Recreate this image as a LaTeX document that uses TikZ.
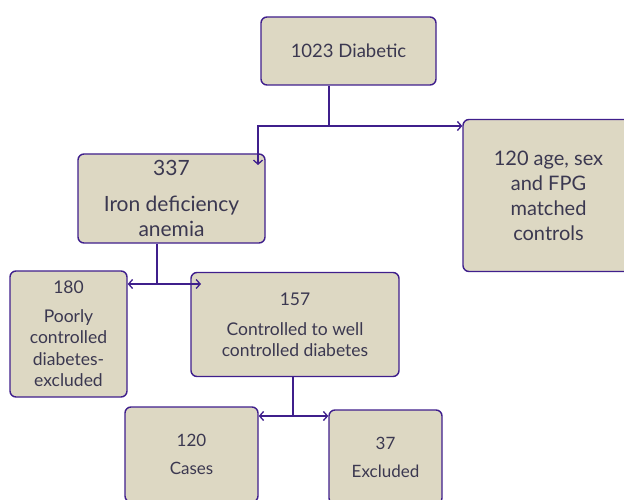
\documentclass[tikz,border=0pt]{standalone}
\usepackage{fontspec}
\setmainfont{Lato}
\usetikzlibrary{arrows.meta}
\definecolor{boxfill}{HTML}{DDD8C3}
\definecolor{boxline}{HTML}{3F1F8C}
\definecolor{txt}{HTML}{3B3850}
\tikzset{
  flowbox/.style={draw=boxline, fill=boxfill, line width=1.4pt, rounded corners=6pt,
    inner sep=0pt, align=center, text=txt},
  conn/.style={draw=boxline, line width=1.3pt},
  arr/.style={conn, -{Straight Barb[length=4pt,width=9pt]}}
}
\begin{document}
\begin{tikzpicture}[x=1pt,y=-1pt]
\useasboundingbox (0,0) rectangle (624,500);
\clip (0,0) rectangle (624,500);

\node[flowbox, minimum width=175pt, minimum height=68pt, font=\fontsize{18.5}{22}\selectfont]
  (dia) at (348.5,51) {1023 Diabetic};
\node[flowbox, minimum width=171pt, minimum height=152pt, font=\fontsize{20}{25}\selectfont]
  (ctrl) at (548.5,195.5) {120 age, sex\\and FPG\\matched\\controls};
\node[flowbox, minimum width=187pt, minimum height=89pt, font=\fontsize{21}{25}\selectfont]
  (iron) at (171.5,198.5) {337\\[11pt]Iron deficiency\\anemia};
\node[flowbox, minimum width=117pt, minimum height=126pt, font=\fontsize{17.5}{21.5}\selectfont]
  (p180) at (68.5,334) {180\\[7pt]Poorly\\controlled\\diabetes-\\excluded};
\node[flowbox, minimum width=208pt, minimum height=104pt, font=\fontsize{17.5}{21}\selectfont]
  (c157) at (295,324.5) {157\\[9pt]Controlled to well\\controlled diabetes};
\node[flowbox, minimum width=133pt, minimum height=95pt, font=\fontsize{17}{21}\selectfont]
  (cases) at (191.5,454.5) {120\\[7pt]Cases};
\node[flowbox, minimum width=113pt, minimum height=94pt, font=\fontsize{17}{21}\selectfont]
  (excl) at (385.5,457) {37\\[7pt]Excluded};

\coordinate (j1) at (329,126);
\coordinate (t1) at (258,165);
\coordinate (j2) at (157,284);
\coordinate (t2) at (201,284);
\coordinate (j3) at (293,416);

\draw[conn] (dia.south -| j1) -- (j1);
\draw[arr] (j1) -| (t1);
\draw[arr] (j1) -- (ctrl.west |- j1);

\draw[conn] (iron.south -| j2) -- (j2);
\draw[arr] (j2) -- (p180.east |- j2);
\draw[arr] (j2) -- (t2);

\draw[conn] (c157.south -| j3) -- (j3);
\draw[arr] (j3) -- (cases.east |- j3);
\draw[arr] (j3) -- (excl.west |- j3);
\end{tikzpicture}
\end{document}
